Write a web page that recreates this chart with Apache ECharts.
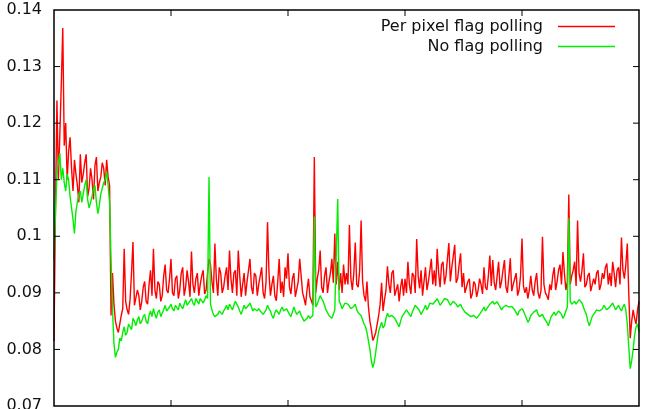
<!DOCTYPE html>
<html>
<head>
<meta charset="utf-8">
<script src="https://cdn.jsdelivr.net/npm/echarts@6/dist/echarts.min.js"></script>
<style>
  html, body { margin: 0; padding: 0; background: #fff; }
  #chart { width: 645px; height: 409px; }
</style>
</head>
<body>
<div id="chart"></div>
<script>
// sample spacing along x (axis runs 0..1000, 401 samples)
const xStep = 2.5

const seriesNames = ['Per pixel flag polling', 'No flag polling']

// per pixel flag polling (red)
const perPixel = [
  0.0815, 0.1050, 0.1240, 0.1100, 0.1180, 0.1270, 0.1368, 0.1160, 0.1200, 0.1100, 0.1150, 0.1175, 0.1120, 0.1080, 0.1135, 0.1110, 0.1090, 0.1060, 0.1145, 0.1095,
  0.1110, 0.1130, 0.1145, 0.1070, 0.1085, 0.1120, 0.1100, 0.1065, 0.1125, 0.1140, 0.1080, 0.1095, 0.1105, 0.1130, 0.1120, 0.1090, 0.1135, 0.1105, 0.1090, 0.0860,
  0.0935, 0.0880, 0.0850, 0.0838, 0.0830, 0.0845, 0.0860, 0.0872, 0.0978, 0.0885, 0.0870, 0.0862, 0.0888, 0.0935, 0.0990, 0.0878, 0.0880, 0.0905, 0.0895, 0.0870,
  0.0885, 0.0910, 0.0920, 0.0885, 0.0880, 0.0915, 0.0940, 0.0895, 0.0978, 0.0905, 0.0890, 0.0920, 0.0915, 0.0885, 0.0895, 0.0930, 0.0950, 0.0905, 0.0900, 0.0925,
  0.0960, 0.0900, 0.0895, 0.0925, 0.0930, 0.0890, 0.0905, 0.0935, 0.0945, 0.0895, 0.0910, 0.0940, 0.0920, 0.0893, 0.0973, 0.0915, 0.0900, 0.0925, 0.0935, 0.0895,
  0.0915, 0.0930, 0.0940, 0.0898, 0.0905, 0.0935, 0.0960, 0.0950, 0.0920, 0.0900, 0.0987, 0.0925, 0.0895, 0.0945, 0.0935, 0.0900, 0.0910, 0.0930, 0.0945, 0.0905,
  0.0975, 0.0925, 0.0900, 0.0935, 0.0940, 0.0895, 0.0975, 0.0930, 0.0893, 0.0915, 0.0935, 0.0895, 0.0920, 0.0940, 0.0960, 0.0910, 0.0898, 0.0935, 0.0930, 0.0895,
  0.0915, 0.0930, 0.0945, 0.0900, 0.0890, 0.0920, 0.1025, 0.0935, 0.0895, 0.0915, 0.0930, 0.0895, 0.0886, 0.0920, 0.0960, 0.0900, 0.0920, 0.0893, 0.0945, 0.0925,
  0.0970, 0.0910, 0.0898, 0.0925, 0.0935, 0.0893, 0.0890, 0.0920, 0.0960, 0.0930, 0.0900, 0.0890, 0.0878, 0.0905, 0.0925, 0.0893, 0.0886, 0.0878, 0.1140, 0.0900,
  0.0925, 0.0940, 0.0975, 0.0910, 0.0900, 0.0930, 0.0945, 0.0900, 0.0920, 0.0935, 0.0960, 0.0918, 0.1005, 0.0915, 0.0955, 0.0905, 0.0935, 0.0900, 0.0950, 0.0915,
  0.0935, 0.0915, 0.1020, 0.0925, 0.0905, 0.0935, 0.0989, 0.0915, 0.0910, 0.0940, 0.1028, 0.0920, 0.0895, 0.0885, 0.0920, 0.0875, 0.0850, 0.0835, 0.0816, 0.0822,
  0.0830, 0.0845, 0.0860, 0.0880, 0.0918, 0.0868, 0.0888, 0.0905, 0.0947, 0.0915, 0.0900, 0.0935, 0.0940, 0.0895, 0.0892, 0.0915, 0.0885, 0.0910, 0.0925, 0.0895,
  0.0925, 0.0900, 0.0955, 0.0915, 0.0898, 0.0935, 0.0930, 0.0900, 0.0995, 0.0930, 0.0908, 0.0940, 0.0895, 0.0920, 0.0945, 0.0905, 0.0920, 0.0940, 0.0960, 0.0915,
  0.0940, 0.0912, 0.0978, 0.0935, 0.0910, 0.0950, 0.0955, 0.0915, 0.0930, 0.0960, 0.0988, 0.0920, 0.0945, 0.0965, 0.0985, 0.0918, 0.0925, 0.0950, 0.0970, 0.0910,
  0.0935, 0.0900, 0.0910, 0.0920, 0.0925, 0.0890, 0.0898, 0.0920, 0.0915, 0.0893, 0.0905, 0.0925, 0.0915, 0.0898, 0.0945, 0.0910, 0.0905, 0.0930, 0.0966, 0.0912,
  0.0958, 0.0918, 0.0905, 0.0930, 0.0955, 0.0908, 0.0920, 0.0940, 0.0958, 0.0910, 0.0900, 0.0930, 0.0961, 0.0903, 0.0915, 0.0925, 0.0935, 0.0895, 0.0905, 0.0930,
  0.0996, 0.0912, 0.0900, 0.0910, 0.0890, 0.0905, 0.0930, 0.0905, 0.0895, 0.0920, 0.0935, 0.0900, 0.0890, 0.0905, 0.0999, 0.0915, 0.0900, 0.0895, 0.0888, 0.0915,
  0.0905, 0.0930, 0.0945, 0.0905, 0.0920, 0.0940, 0.0950, 0.0915, 0.0972, 0.0935, 0.0905, 0.0920, 0.1074, 0.0915, 0.0930, 0.0940, 0.0955, 0.0912, 0.1028, 0.0935,
  0.0920, 0.0940, 0.0970, 0.0910, 0.0915, 0.0930, 0.0935, 0.0903, 0.0900, 0.0925, 0.0915, 0.0935, 0.0940, 0.0905, 0.0915, 0.0935, 0.0925, 0.0945, 0.0952, 0.0915,
  0.0935, 0.0912, 0.0955, 0.0935, 0.0910, 0.0940, 0.0945, 0.0915, 0.0998, 0.0940, 0.0925, 0.0950, 0.0987, 0.0900, 0.0820, 0.0850, 0.0870, 0.0855, 0.0845, 0.0870,
  0.0885
]

// no flag polling (green)
const noFlag = [
  0.0960, 0.1040, 0.1110, 0.1130, 0.1147, 0.1100, 0.1120, 0.1095, 0.1080, 0.1110, 0.1100, 0.1070, 0.1050, 0.1030, 0.1005, 0.1045, 0.1060, 0.1075, 0.1080, 0.1060,
  0.1075, 0.1090, 0.1100, 0.1065, 0.1050, 0.1060, 0.1070, 0.1085, 0.1090, 0.1060, 0.1040, 0.1055, 0.1075, 0.1085, 0.1095, 0.1100, 0.1115, 0.1090, 0.1060, 0.0960,
  0.0870, 0.0810, 0.0786, 0.0795, 0.0800, 0.0820, 0.0815, 0.0830, 0.0840, 0.0825, 0.0830, 0.0845, 0.0848, 0.0835, 0.0855, 0.0850, 0.0842, 0.0852, 0.0858, 0.0845,
  0.0850, 0.0858, 0.0862, 0.0850, 0.0845, 0.0860, 0.0868, 0.0858, 0.0872, 0.0862, 0.0855, 0.0866, 0.0870, 0.0858, 0.0860, 0.0870, 0.0878, 0.0868, 0.0865, 0.0875,
  0.0880, 0.0872, 0.0868, 0.0878, 0.0875, 0.0870, 0.0882, 0.0876, 0.0872, 0.0880, 0.0888, 0.0878, 0.0880, 0.0886, 0.0890, 0.0882, 0.0878, 0.0890, 0.0885, 0.0880,
  0.0890, 0.0886, 0.0882, 0.0888, 0.0895, 0.0890, 0.1105, 0.0880, 0.0870, 0.0862, 0.0858, 0.0855, 0.0862, 0.0868, 0.0870, 0.0862, 0.0868, 0.0872, 0.0878, 0.0870,
  0.0880, 0.0875, 0.0870, 0.0878, 0.0885, 0.0880, 0.0875, 0.0868, 0.0862, 0.0870, 0.0878, 0.0872, 0.0870, 0.0878, 0.0882, 0.0875, 0.0868, 0.0872, 0.0875, 0.0868,
  0.0872, 0.0868, 0.0865, 0.0862, 0.0860, 0.0870, 0.0878, 0.0872, 0.0868, 0.0860, 0.0855, 0.0865, 0.0870, 0.0866, 0.0862, 0.0870, 0.0875, 0.0868, 0.0866, 0.0872,
  0.0870, 0.0862, 0.0858, 0.0866, 0.0875, 0.0868, 0.0862, 0.0865, 0.0868, 0.0860, 0.0855, 0.0850, 0.0848, 0.0855, 0.0860, 0.0855, 0.0852, 0.0860, 0.1035, 0.0875,
  0.0880, 0.0888, 0.0895, 0.0890, 0.0885, 0.0878, 0.0870, 0.0865, 0.0860, 0.0862, 0.0855, 0.0862, 0.0870, 0.0868, 0.1066, 0.0885, 0.0880, 0.0872, 0.0875, 0.0882,
  0.0885, 0.0880, 0.0878, 0.0872, 0.0870, 0.0876, 0.0880, 0.0870, 0.0865, 0.0868, 0.0860, 0.0852, 0.0845, 0.0840, 0.0830, 0.0815, 0.0800, 0.0780, 0.0768, 0.0778,
  0.0795, 0.0815, 0.0832, 0.0840, 0.0848, 0.0838, 0.0842, 0.0855, 0.0864, 0.0858, 0.0855, 0.0860, 0.0862, 0.0855, 0.0850, 0.0845, 0.0840, 0.0850, 0.0858, 0.0862,
  0.0862, 0.0870, 0.0868, 0.0862, 0.0858, 0.0866, 0.0872, 0.0878, 0.0880, 0.0872, 0.0868, 0.0862, 0.0865, 0.0872, 0.0878, 0.0870, 0.0875, 0.0882, 0.0885, 0.0880,
  0.0882, 0.0886, 0.0890, 0.0884, 0.0878, 0.0882, 0.0886, 0.0890, 0.0892, 0.0888, 0.0885, 0.0878, 0.0880, 0.0885, 0.0888, 0.0880, 0.0875, 0.0878, 0.0880, 0.0874,
  0.0872, 0.0866, 0.0868, 0.0862, 0.0860, 0.0858, 0.0855, 0.0860, 0.0862, 0.0855, 0.0858, 0.0862, 0.0866, 0.0870, 0.0875, 0.0868, 0.0870, 0.0876, 0.0880, 0.0878,
  0.0885, 0.0880, 0.0878, 0.0884, 0.0882, 0.0875, 0.0870, 0.0874, 0.0876, 0.0878, 0.0880, 0.0875, 0.0872, 0.0876, 0.0878, 0.0870, 0.0865, 0.0860, 0.0868, 0.0870,
  0.0872, 0.0868, 0.0865, 0.0855, 0.0848, 0.0852, 0.0860, 0.0862, 0.0866, 0.0868, 0.0870, 0.0862, 0.0858, 0.0860, 0.0862, 0.0856, 0.0852, 0.0848, 0.0842, 0.0850,
  0.0858, 0.0862, 0.0866, 0.0860, 0.0862, 0.0868, 0.0870, 0.0862, 0.0855, 0.0860, 0.0868, 0.0875, 0.1032, 0.0885, 0.0880, 0.0878, 0.0885, 0.0880, 0.0882, 0.0888,
  0.0890, 0.0882, 0.0875, 0.0868, 0.0862, 0.0850, 0.0842, 0.0850, 0.0858, 0.0862, 0.0865, 0.0870, 0.0872, 0.0868, 0.0866, 0.0872, 0.0878, 0.0874, 0.0870, 0.0868,
  0.0875, 0.0878, 0.0882, 0.0876, 0.0870, 0.0874, 0.0878, 0.0872, 0.0868, 0.0875, 0.0880, 0.0870, 0.0845, 0.0805, 0.0766, 0.0780, 0.0800, 0.0825, 0.0840, 0.0845,
  0.0830
]

const yTicks = { min: 0.07, max: 0.14, interval: 0.01 }
const xTicks = { min: 0, max: 1000, interval: 200 }
const xTickValues = [200, 400, 600, 800]
const yTickValues = [0.08, 0.09, 0.1, 0.11, 0.12, 0.13]

const toPairs = arr => arr.map((v, i) => [i * xStep, v])

const chart = echarts.init(document.getElementById('chart'))

const fontFamily = '"DejaVu Sans", "Liberation Sans", sans-serif'
const tickLen = 6

const legendItem = (name, top) => ({
  data: [name],
  right: 25, top,
  align: 'right',
  icon: 'rect', itemWidth: 57, itemHeight: 1.5,
  textStyle: { fontFamily, fontSize: 16, color: '#111', padding: [0, 10, 0, 0] },
  selectedMode: false
})

const option = {
  animation: false,
  grid: { left: 54, right: 6, top: 10, bottom: 3, outerBoundsMode: 'none' },
  legend: [legendItem(seriesNames[0], 13.5), legendItem(seriesNames[1], 33.5)],
  xAxis: {
    type: 'value', ...xTicks,
    axisLine: { show: false }, axisTick: { show: false },
    axisLabel: { show: false }, splitLine: { show: false }
  },
  yAxis: {
    type: 'value', ...yTicks,
    axisLine: { show: false }, axisTick: { show: false }, splitLine: { show: false },
    axisLabel: {
      margin: 12, fontFamily, fontSize: 16, color: '#111',
      formatter: v => String(+v.toFixed(2))
    }
  },
  series: [
    {
      name: seriesNames[0], type: 'line', data: toPairs(perPixel),
      symbolSize: 0, clip: false,
      lineStyle: { color: '#ff0000', width: 1.4 },
      itemStyle: { color: '#ff0000', borderWidth: 0 }
    },
    {
      name: seriesNames[1], type: 'line', data: toPairs(noFlag),
      symbolSize: 0, clip: false,
      lineStyle: { color: '#00ee00', width: 1.4 },
      itemStyle: { color: '#00ee00', borderWidth: 0 }
    }
  ]
}

chart.setOption(option)

// gnuplot-style frame with inward ticks on all four sides, placed through the axes' own scales
const px = (x, y) => chart.convertToPixel({ xAxisIndex: 0, yAxisIndex: 0 }, [x, y])
const [x0, y0] = px(xTicks.min, yTicks.min)
const [x1, y1] = px(xTicks.max, yTicks.max)
const stroke = { stroke: '#000', lineWidth: 1 }
const seg = (ax, ay, bx, by) => ({ type: 'line', z: 100, silent: true, shape: { x1: ax, y1: ay, x2: bx, y2: by }, style: stroke })
const frameParts = [
  {
    type: 'rect', z: 100, silent: true,
    shape: { x: x0, y: y1, width: x1 - x0, height: y0 - y1 },
    style: { fill: 'none', stroke: '#000', lineWidth: 1.5 }
  }
]
xTickValues.forEach(v => {
  const [x] = px(v, yTicks.min)
  frameParts.push(seg(x, y0, x, y0 - tickLen), seg(x, y1, x, y1 + tickLen))
})
yTickValues.forEach(v => {
  const [, y] = px(xTicks.min, v)
  frameParts.push(seg(x0, y, x0 + tickLen, y), seg(x1, y, x1 - tickLen, y))
})
chart.setOption({ graphic: { elements: frameParts } })
</script>
</body>
</html>
